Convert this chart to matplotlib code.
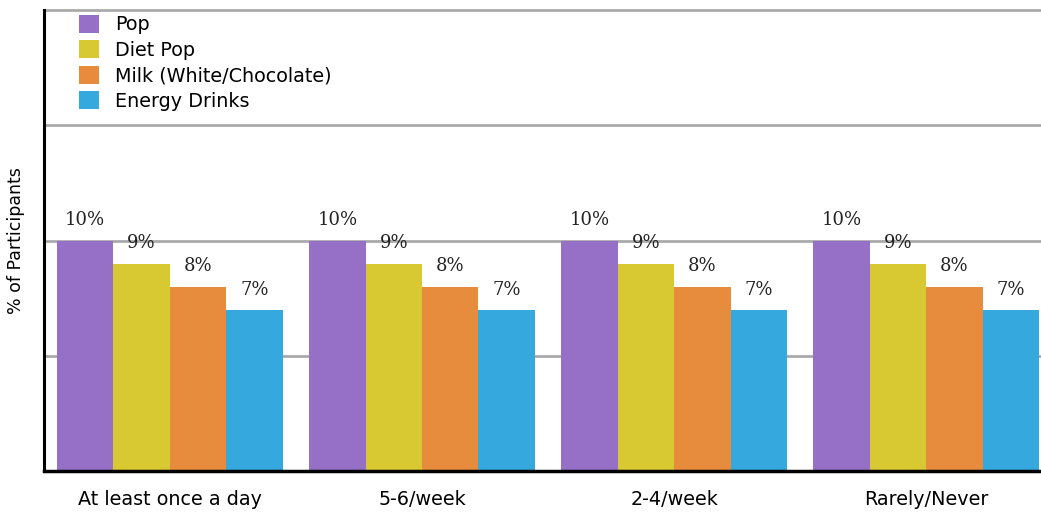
import matplotlib
matplotlib.use("Agg")
import matplotlib.pyplot as plt
import numpy as np
from matplotlib.patches import Patch

categories = ["At least once a day", "5-6/week", "2-4/week", "Rarely/Never"]
series_names = ["Pop", "Diet Pop", "Milk (White/Chocolate)", "Energy Drinks"]
pop = [10, 10, 10, 10]
diet_pop = [9, 9, 9, 9]
milk = [8, 8, 8, 8]
energy = [7, 7, 7, 7]
colors = ["#9570C6", "#D8C832", "#E78C3C", "#35A8DD"]

values = [pop, diet_pop, milk, energy]

fig = plt.figure(figsize=(10.41, 5.15), dpi=100)
ax = fig.add_axes([44 / 1041, 1 - 471 / 515, 1 - 44 / 1041, (471 - 10) / 515])

x = np.arange(len(categories))
width = 0.2237
offsets = (np.arange(len(series_names)) - 1.5) * width

for vals, off, col, name in zip(values, offsets, colors, series_names):
    bars = ax.bar(x + off, vals, width=width, color=col, label=name, zorder=3)
    ax.bar_label(bars, labels=[f"{v}%" for v in vals], padding=8,
                 fontsize=13, family="DejaVu Serif", color="#222222")

ax.set_xlim(-0.499, 3.455)
ax.set_ylim(0, 20)
ax.set_yticks([5, 10, 15, 20])
ax.set_yticklabels([])
ax.yaxis.grid(True, color="#aaaaaa", linewidth=2)
for line in ax.get_ygridlines():
    line.set_clip_on(False)
ax.tick_params(axis="y", length=0)
ax.tick_params(axis="x", length=0, pad=14, labelsize=13.8)
ax.set_xticks(x)
ax.set_xticklabels(categories)

for s in ["top", "right"]:
    ax.spines[s].set_visible(False)
ax.spines["left"].set_linewidth(2.2)
ax.spines["bottom"].set_linewidth(2.5)
ax.spines["left"].set_zorder(5)
ax.spines["bottom"].set_zorder(5)

ax.set_ylabel("% of Participants", fontsize=12.5)
ax.yaxis.set_label_coords(-0.019, 0.5)

handles = [Patch(facecolor=c, edgecolor="none") for c in colors]
leg = ax.legend(handles, series_names, loc="upper left",
                bbox_to_anchor=(23 / 997, 1.015), frameon=False,
                fontsize=13.8, handlelength=1.05, handleheight=1.1,
                handletextpad=0.85, labelspacing=0.3, borderaxespad=0.2)

fig.savefig("out.png", dpi=100, facecolor="white")
